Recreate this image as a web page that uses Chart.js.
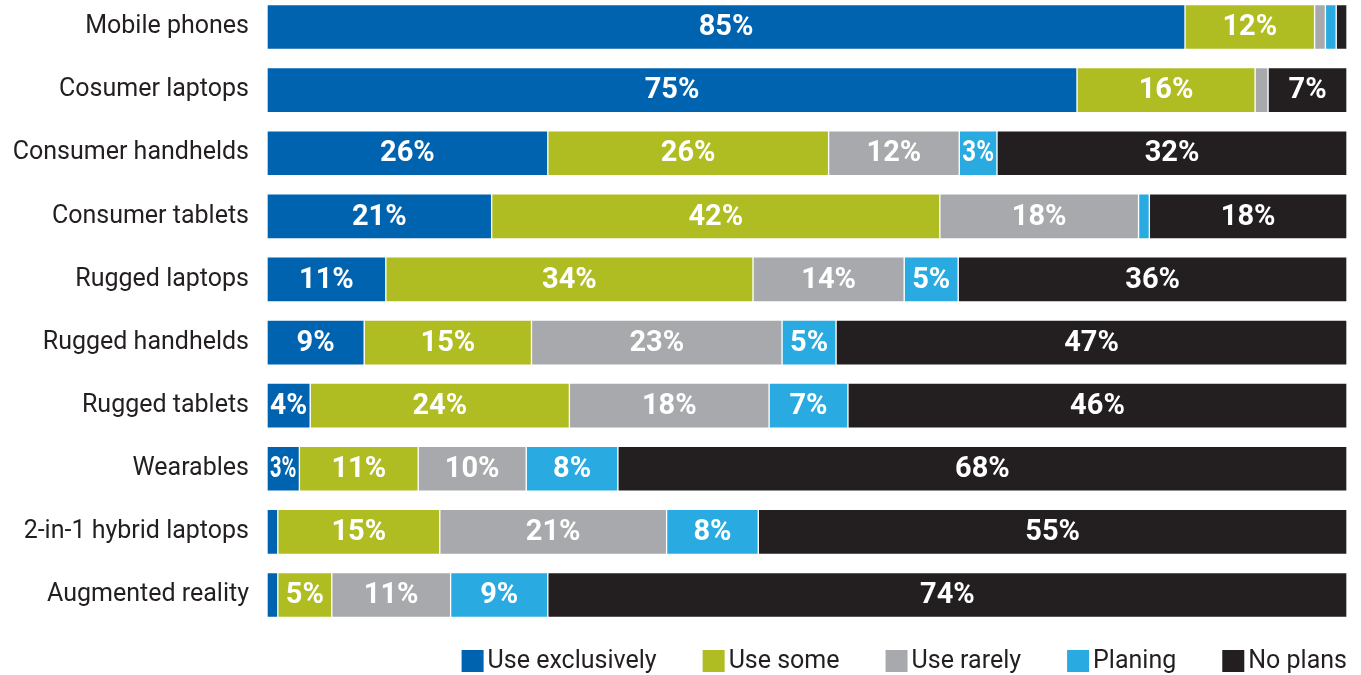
<!DOCTYPE html>
<html>
<head>
<meta charset="utf-8">
<script src="https://cdn.jsdelivr.net/npm/chart.js@4/dist/chart.umd.min.js"></script>
<style>
  html, body { margin: 0; padding: 0; background: #fff; }
  #wrap { width: 1361px; height: 675px; position: relative; }
</style>
</head>
<body>
<div id="wrap"><canvas id="chart"></canvas></div>
<script>
// Data
const categories = ["Mobile phones", "Cosumer laptops", "Consumer handhelds", "Consumer tablets",
  "Rugged laptops", "Rugged handhelds", "Rugged tablets", "Wearables",
  "2-in-1 hybrid laptops", "Augmented reality"];
const useExclusively = [85, 75, 26, 20.8, 11, 9, 4, 3, 1, 1];
const useSome = [12, 16.49, 26, 41.5, 34, 15.49, 24, 11, 15, 5];
const useRarely = [1, 1.2, 12.1, 18.4, 14, 23.2, 18.49, 10, 21, 11];
const planing = [1, 0, 3.49, 1, 5, 5, 7.3, 8.49, 8.49, 9];
const noPlans = [1, 7.31, 32.41, 18.3, 36, 47.31, 46.21, 67.51, 54.51, 74];

const seriesNames = ["Use exclusively", "Use some", "Use rarely", "Planing", "No plans"];
const seriesColors = ["#0063b0", "#afbd22", "#a7a9ac", "#29abe2", "#231f20"];
const seriesData = [useExclusively, useSome, useRarely, planing, noPlans];

const textColor = "#231f20";

// value labels inside the bars
const barLabels = {
  id: "barLabels",
  afterDatasetsDraw(chart) {
    const ctx = chart.ctx;
    ctx.save();
    ctx.fillStyle = "#fff";
    ctx.font = "bold 29px Roboto";
    ctx.textAlign = "center";
    ctx.textBaseline = "middle";
    chart.data.datasets.forEach((ds, i) => {
      const meta = chart.getDatasetMeta(i);
      meta.data.forEach((bar, j) => {
        const v = ds.data[j];
        if (v < 2.5) return;
        const w = Math.abs(bar.x - bar.base);
        const cx = (bar.x + bar.base) / 2;
        ctx.fillText(Math.round(v) + "%", cx, bar.y + 1, w - 6);
      });
    });
    ctx.restore();
  }
};

// legend drawn right-aligned under the bars, box close to its text
const tightLegend = {
  id: "tightLegend",
  afterDraw(chart) {
    const ctx = chart.ctx;
    const box = 22, textGap = 4, itemGap = 46;
    const y = 661;
    ctx.save();
    ctx.font = "25px Roboto";
    ctx.textBaseline = "middle";
    ctx.textAlign = "left";
    const items = chart.data.datasets.map(ds => ({
      text: ds.label, color: ds.backgroundColor, w: ctx.measureText(ds.label).width
    }));
    let x = chart.chartArea.right;
    for (let i = items.length - 1; i >= 0; i--) {
      const it = items[i];
      x -= it.w;
      ctx.fillStyle = textColor;
      ctx.fillText(it.text, x, y + 1);
      x -= textGap + box;
      ctx.fillStyle = it.color;
      ctx.fillRect(x, y - box / 2, box, box);
      x -= itemGap;
    }
    ctx.restore();
  }
};

const datasets = seriesNames.map((name, i) => ({
  label: name,
  data: seriesData[i],
  backgroundColor: seriesColors[i],
  borderColor: "#fff",
  borderWidth: 1,
  borderSkipped: false,
  barThickness: 45,
  clip: false
}));

new Chart(document.getElementById("chart"), {
  type: "bar",
  data: { labels: categories, datasets: datasets },
  options: {
    indexAxis: "y",
    responsive: true,
    maintainAspectRatio: false,
    animation: false,
    layout: { padding: { top: 27, right: 14, left: 0, bottom: 80 } },
    scales: {
      x: {
        stacked: true,
        min: 0,
        max: 100,
        display: false
      },
      y: {
        stacked: true,
        offset: false,
        grid: { display: false },
        border: { display: false },
        ticks: {
          color: textColor,
          font: { family: "Roboto", size: 25 },
          padding: 10
        },
        afterFit(scale) { scale.width = 267; }
      }
    },
    plugins: {
      tooltip: { enabled: false },
      legend: { display: false }
    }
  },
  plugins: [barLabels, tightLegend]
});
</script>
</body>
</html>
